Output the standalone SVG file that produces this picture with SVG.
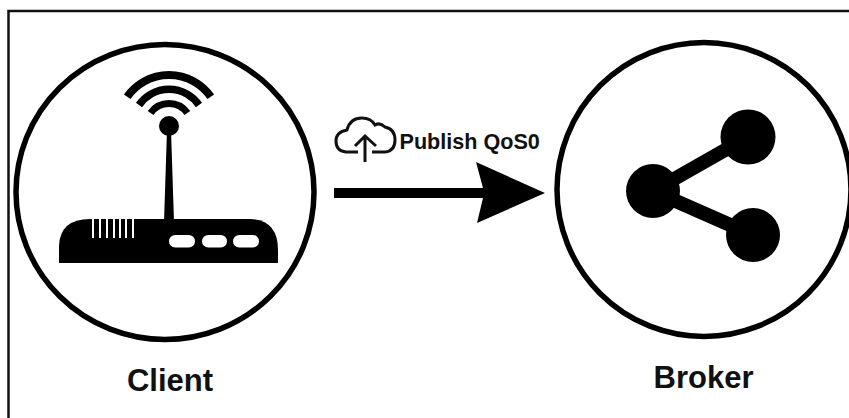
<svg xmlns="http://www.w3.org/2000/svg" width="849" height="418" viewBox="0 0 849 418">
<style>
.ring{fill:#fff;stroke:#000;stroke-width:5.5}
.lbl{font-family:"Liberation Sans",Arial,sans-serif;font-weight:700;fill:#111}
.arc{fill:none;stroke:#000}
.cl{fill:none;stroke:#111;stroke-width:3}
</style>
<rect width="849" height="418" fill="#fff"/>
<path id="frame" d="M849 11H8.500V418" fill="none" stroke="#111" stroke-width="2.500"/>
<g id="client">
<ellipse class="ring" cx="165" cy="192" rx="149" ry="147.500"/>
<path class="arc" stroke-width="8" d="M127.200 96.700A51 51 0 0 1 210.800 96.700"/>
<path class="arc" stroke-width="7.500" d="M139 105A36.500 36.500 0 0 1 199 105"/>
<path class="arc" stroke-width="7" d="M150.600 113.100A22.500 22.500 0 0 1 187.400 113.100"/>
<circle cx="169" cy="126" r="10"/>
<path d="M167 130H171L174 222H164Z"/>
<path d="M59 263V246Q60 219 90 219H250Q278 220 278 250V263Z"/>
<g fill="#fff"><rect x="92" y="219" width="2" height="19"/><rect x="99" y="219" width="2" height="19"/><rect x="106" y="219" width="2" height="19"/><rect x="113" y="219" width="2" height="19"/><rect x="119" y="219" width="2" height="19"/><rect x="125" y="219" width="2" height="19"/><rect x="132" y="219" width="2" height="19"/>
<rect x="169" y="235" width="26" height="12.500" rx="6.250"/><rect x="202" y="235" width="25" height="12.500" rx="6.250"/><rect x="233" y="235" width="26" height="12.500" rx="6.250"/></g>
<text class="lbl" x="170" y="391" font-size="31" text-anchor="middle">Client</text>
</g>
<g id="broker">
<circle class="ring" cx="704" cy="189.500" r="147"/>
<path d="M653 191L748 137M653 191L753 235" stroke="#000" stroke-width="14" fill="none"/>
<circle cx="653" cy="191" r="27"/>
<circle cx="748" cy="137" r="27.500"/>
<circle cx="753" cy="235" r="27"/>
<text class="lbl" x="703.500" y="388" font-size="31" text-anchor="middle">Broker</text>
</g>
<g id="connectors">
<path d="M334 188H490V198H334Z"/>
<path d="M476 162L545 193L477 223L483 198V188Z"/>
</g>
<g id="publish">
<path class="cl" d="M358 152H346Q336 151 336 141Q336 132 347 130Q350 118 362 118Q371 118 375 125Q380 122 385 127Q395 129 395 140Q395 151 385 152H372"/>
<path class="cl" d="M365 162V137M355 146L365 136L376 146"/>
<text class="lbl" x="399.500" y="149" font-size="21.600">Publish QoS0</text>
</g>
</svg>
